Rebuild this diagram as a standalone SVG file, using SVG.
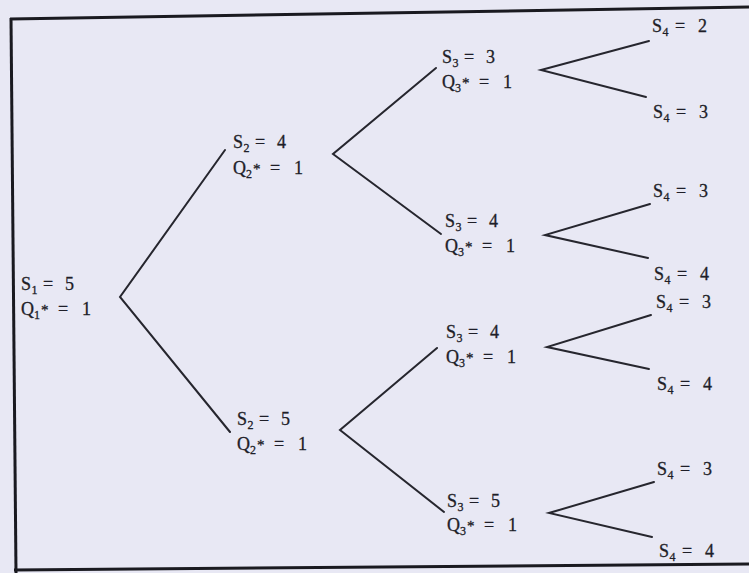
<svg xmlns="http://www.w3.org/2000/svg" width="749" height="573" viewBox="0 0 749 573">
<style>
.t{font-size:18px;fill:#1e1e28;stroke:#1e1e28;stroke-width:0.3}
.sub{font-size:12px}
.st{font-size:15px}
.ln{stroke:#26262e;stroke-width:2;fill:none;stroke-linecap:round}
.bd{stroke:#1a1a20;stroke-width:3;fill:none}
</style>
<rect width="749" height="573" fill="#e8e8f4"/>
<g id="frame">
<path class="bd" d="M10 19 L749 7"/>
<path class="bd" d="M11 18 L16 573"/>
<path class="bd" d="M14 570 L749 564"/>
</g>
<g id="connectors">
<path class="ln" d="M225 150 L120 297 L230 432"/>
<path class="ln" d="M436 68 L333 154 L441 234"/>
<path class="ln" d="M437 348 L340 430 L444 512"/>
<path class="ln" d="M649 41 L541 70 L646 97"/>
<path class="ln" d="M650 204 L545 235 L648 258"/>
<path class="ln" d="M651 315 L547 347 L649 369"/>
<path class="ln" d="M654 482 L549 513 L652 537"/>
</g>
<g id="labels" font-family="Liberation Serif">
<g id="n1" transform="translate(21,290)">
<text class="t" font-family="Liberation Serif"><tspan x="0" y="0">S</tspan><tspan class="sub" x="10.5" y="4">1</tspan><tspan x="22" y="0">=</tspan><tspan x="44" y="0">5</tspan></text>
<text class="t" font-family="Liberation Serif"><tspan x="0" y="25">Q</tspan><tspan class="sub" x="13" y="29">1</tspan><tspan class="st" x="20" y="25">*</tspan><tspan x="37" y="25">=</tspan><tspan x="61" y="25">1</tspan></text>
</g>
<g id="n2a" transform="translate(233,148)">
<text class="t" font-family="Liberation Serif"><tspan x="0" y="0">S</tspan><tspan class="sub" x="10.5" y="4">2</tspan><tspan x="22" y="0">=</tspan><tspan x="44" y="0">4</tspan></text>
<text class="t" font-family="Liberation Serif"><tspan x="0" y="26">Q</tspan><tspan class="sub" x="13" y="30">2</tspan><tspan class="st" x="20" y="26">*</tspan><tspan x="37" y="26">=</tspan><tspan x="61" y="26">1</tspan></text>
</g>
<g id="n2b" transform="translate(237,425)">
<text class="t" font-family="Liberation Serif"><tspan x="0" y="0">S</tspan><tspan class="sub" x="10.5" y="4">2</tspan><tspan x="22" y="0">=</tspan><tspan x="44" y="0">5</tspan></text>
<text class="t" font-family="Liberation Serif"><tspan x="0" y="25">Q</tspan><tspan class="sub" x="13" y="29">2</tspan><tspan class="st" x="20" y="25">*</tspan><tspan x="37" y="25">=</tspan><tspan x="61" y="25">1</tspan></text>
</g>
<g id="n3a" transform="translate(442,63)">
<text class="t" font-family="Liberation Serif"><tspan x="0" y="0">S</tspan><tspan class="sub" x="10.5" y="4">3</tspan><tspan x="22" y="0">=</tspan><tspan x="44" y="0">3</tspan></text>
<text class="t" font-family="Liberation Serif"><tspan x="0" y="25">Q</tspan><tspan class="sub" x="13" y="29">3</tspan><tspan class="st" x="20" y="25">*</tspan><tspan x="37" y="25">=</tspan><tspan x="61" y="25">1</tspan></text>
</g>
<g id="n3b" transform="translate(445,227)">
<text class="t" font-family="Liberation Serif"><tspan x="0" y="0">S</tspan><tspan class="sub" x="10.5" y="4">3</tspan><tspan x="22" y="0">=</tspan><tspan x="44" y="0">4</tspan></text>
<text class="t" font-family="Liberation Serif"><tspan x="0" y="25">Q</tspan><tspan class="sub" x="13" y="29">3</tspan><tspan class="st" x="20" y="25">*</tspan><tspan x="37" y="25">=</tspan><tspan x="61" y="25">1</tspan></text>
</g>
<g id="n3c" transform="translate(446,338)">
<text class="t" font-family="Liberation Serif"><tspan x="0" y="0">S</tspan><tspan class="sub" x="10.5" y="4">3</tspan><tspan x="22" y="0">=</tspan><tspan x="44" y="0">4</tspan></text>
<text class="t" font-family="Liberation Serif"><tspan x="0" y="25">Q</tspan><tspan class="sub" x="13" y="29">3</tspan><tspan class="st" x="20" y="25">*</tspan><tspan x="37" y="25">=</tspan><tspan x="61" y="25">1</tspan></text>
</g>
<g id="n3d" transform="translate(447,507)">
<text class="t" font-family="Liberation Serif"><tspan x="0" y="0">S</tspan><tspan class="sub" x="10.5" y="4">3</tspan><tspan x="22" y="0">=</tspan><tspan x="44" y="0">5</tspan></text>
<text class="t" font-family="Liberation Serif"><tspan x="0" y="24">Q</tspan><tspan class="sub" x="13" y="28">3</tspan><tspan class="st" x="20" y="24">*</tspan><tspan x="37" y="24">=</tspan><tspan x="61" y="24">1</tspan></text>
</g>
<g id="n4a" transform="translate(652,32)"><text class="t" font-family="Liberation Serif"><tspan x="0" y="0">S</tspan><tspan class="sub" x="10.5" y="4">4</tspan><tspan x="23" y="0">=</tspan><tspan x="46" y="0">2</tspan></text></g>
<g id="n4b" transform="translate(653,118)"><text class="t" font-family="Liberation Serif"><tspan x="0" y="0">S</tspan><tspan class="sub" x="10.5" y="4">4</tspan><tspan x="23" y="0">=</tspan><tspan x="46" y="0">3</tspan></text></g>
<g id="n4c" transform="translate(653,197)"><text class="t" font-family="Liberation Serif"><tspan x="0" y="0">S</tspan><tspan class="sub" x="10.5" y="4">4</tspan><tspan x="23" y="0">=</tspan><tspan x="46" y="0">3</tspan></text></g>
<g id="n4d" transform="translate(654,280)"><text class="t" font-family="Liberation Serif"><tspan x="0" y="0">S</tspan><tspan class="sub" x="10.5" y="4">4</tspan><tspan x="23" y="0">=</tspan><tspan x="46" y="0">4</tspan></text></g>
<g id="n4e" transform="translate(656,308)"><text class="t" font-family="Liberation Serif"><tspan x="0" y="0">S</tspan><tspan class="sub" x="10.5" y="4">4</tspan><tspan x="23" y="0">=</tspan><tspan x="46" y="0">3</tspan></text></g>
<g id="n4f" transform="translate(657,390)"><text class="t" font-family="Liberation Serif"><tspan x="0" y="0">S</tspan><tspan class="sub" x="10.5" y="4">4</tspan><tspan x="23" y="0">=</tspan><tspan x="46" y="0">4</tspan></text></g>
<g id="n4g" transform="translate(657,475)"><text class="t" font-family="Liberation Serif"><tspan x="0" y="0">S</tspan><tspan class="sub" x="10.5" y="4">4</tspan><tspan x="23" y="0">=</tspan><tspan x="46" y="0">3</tspan></text></g>
<g id="n4h" transform="translate(659,557)"><text class="t" font-family="Liberation Serif"><tspan x="0" y="0">S</tspan><tspan class="sub" x="10.5" y="4">4</tspan><tspan x="23" y="0">=</tspan><tspan x="46" y="0">4</tspan></text></g>
</g>
</svg>
